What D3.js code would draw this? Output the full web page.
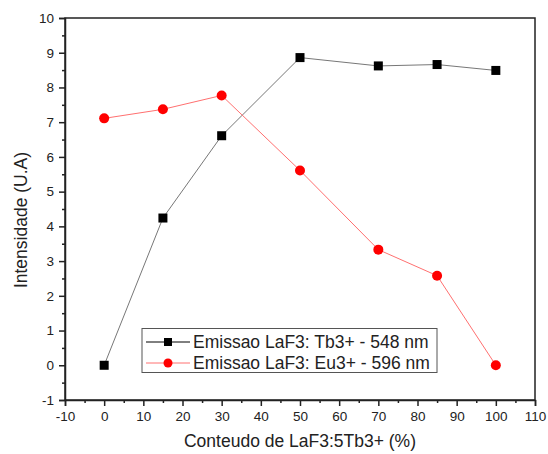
<!DOCTYPE html>
<html><head><meta charset="utf-8">
<script src="https://d3js.org/d3.v7.min.js"></script>
<style>body{margin:0;background:#fff}svg{display:block}text{font-family:Arial,"Liberation Sans",sans-serif}</style>
</head><body><svg id="c" width="548" height="454"></svg>
<script>
const xValues = [0, 15, 30, 50, 70, 85, 100];
const tbValues = [0, 4.24, 6.61, 8.86, 8.62, 8.66, 8.49];
const euValues = [7.11, 7.37, 7.77, 5.61, 3.33, 2.58, 0];
const xTicks = [-10, 0, 10, 20, 30, 40, 50, 60, 70, 80, 90, 100, 110];
const yTicks = [-1, 0, 1, 2, 3, 4, 5, 6, 7, 8, 9, 10];
const seriesNames = ["Emissao LaF3: Tb3+ - 548 nm", "Emissao LaF3: Eu3+ - 596 nm"];
const xTitle = "Conteudo de LaF3:5Tb3+ (%)";
const yTitle = "Intensidade (U.A)";

const svg = d3.select("#c");
const L = 65, R = 535, T = 18, B = 400;
const x = d3.scaleLinear().domain([-10, 110]).range([L, R]);
const y = d3.scaleLinear().domain([-1, 10]).range([B, T]);
const fmt = d => String(d);

// frame
svg.append("rect").attr("x", L).attr("y", T).attr("width", R - L).attr("height", B - T)
  .attr("fill", "none").attr("stroke", "#222").attr("stroke-width", 1.5);

// x axis
const xMinor = d3.range(-5, 110, 10);
svg.append("g").attr("transform", `translate(0,${B})`)
  .call(d3.axisBottom(x).tickValues(xTicks).tickSize(6).tickPadding(5).tickFormat(fmt));
svg.append("g").attr("transform", `translate(0,${B})`)
  .call(d3.axisBottom(x).tickValues(xMinor).tickSize(3).tickFormat(""))
  .select(".domain").remove();

// y axis
const yMinor = d3.range(-0.5, 10, 1);
svg.append("g").attr("transform", `translate(${L},0)`)
  .call(d3.axisLeft(y).tickValues(yTicks).tickSize(6).tickPadding(5).tickFormat(fmt));
svg.append("g").attr("transform", `translate(${L},0)`)
  .call(d3.axisLeft(y).tickValues(yMinor).tickSize(3).tickFormat(""))
  .select(".domain").remove();

svg.selectAll(".domain").attr("stroke", "#222").attr("stroke-width", 1.5);
svg.selectAll(".tick line").attr("stroke", "#222").attr("stroke-width", 1.5);
svg.selectAll(".tick text").attr("font-size", 13.5).attr("fill", "#222")
  .attr("font-family", "Arial, 'Liberation Sans', sans-serif");

// titles
svg.append("text").attr("x", 300).attr("y", 447).attr("text-anchor", "middle")
  .attr("font-size", 17.5).attr("fill", "#222").text(xTitle);
svg.append("text").attr("transform", `translate(27,220) rotate(-90)`)
  .attr("text-anchor", "middle").attr("font-size", 17.5).attr("fill", "#222").text(yTitle);

const line = d3.line().x(d => x(d[0])).y(d => y(d[1]));
const tb = xValues.map((v, i) => [v, tbValues[i]]);
const eu = xValues.map((v, i) => [v, euValues[i]]);

svg.append("path").datum(tb).attr("d", line).attr("fill", "none").attr("stroke", "#777").attr("stroke-width", 1);
svg.append("path").datum(eu).attr("d", line).attr("fill", "none").attr("stroke", "#ff7070").attr("stroke-width", 1);

svg.selectAll(".sq").data(tb).join("rect").attr("x", d => x(d[0]) - 4.5).attr("y", d => y(d[1]) - 4.5)
  .attr("width", 9).attr("height", 9).attr("fill", "#000");
svg.selectAll(".ci").data(eu).join("circle").attr("cx", d => x(d[0])).attr("cy", d => y(d[1]))
  .attr("r", 5).attr("fill", "#ff0000");

// legend
const lg = svg.append("g");
lg.append("rect").attr("x", 142).attr("y", 328.5).attr("width", 295).attr("height", 44)
  .attr("fill", "#fff").attr("stroke", "#555").attr("stroke-width", 1);
const rows = [{c: "#000", lc: "#000", m: "sq"}, {c: "#ff0000", lc: "#ff7070", m: "ci"}];
rows.forEach((r, i) => {
  const cy = 342 + i * 21;
  lg.append("line").attr("x1", 146).attr("x2", 190).attr("y1", cy).attr("y2", cy).attr("stroke", r.lc).attr("stroke-width", 1);
  if (r.m === "sq") lg.append("rect").attr("x", 168 - 4).attr("y", cy - 4).attr("width", 8).attr("height", 8).attr("fill", r.c);
  else lg.append("circle").attr("cx", 168).attr("cy", cy).attr("r", 4.5).attr("fill", r.c);
  lg.append("text").attr("x", 193).attr("y", cy + 6).attr("font-size", 17.5).attr("fill", "#222").text(seriesNames[i]);
});
</script></body></html>
